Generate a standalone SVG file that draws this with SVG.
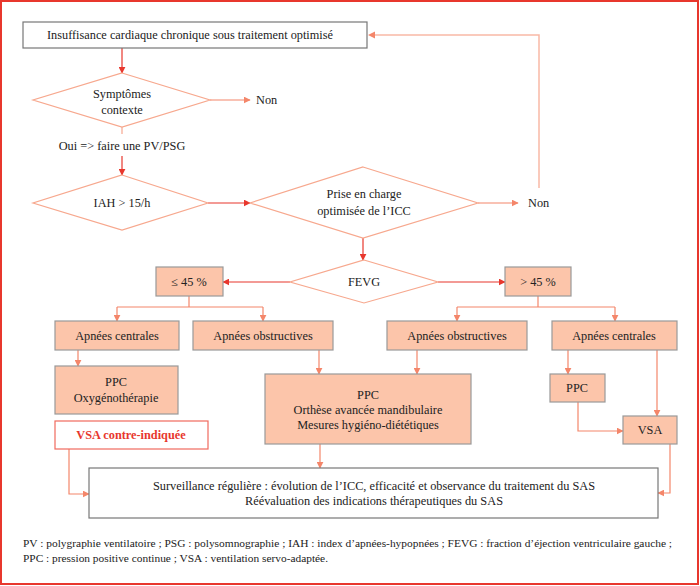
<svg xmlns="http://www.w3.org/2000/svg" width="700" height="586" viewBox="0 0 700 586" font-family="'Liberation Serif', 'Times New Roman', serif" font-size="12.3">
<defs>
<marker id="ar" viewBox="0 0 10 10" refX="9" refY="5" markerWidth="7" markerHeight="7" markerUnits="userSpaceOnUse" orient="auto"><path d="M0,0 L10,5 L0,10 z" fill="#e8372d"/></marker>
<marker id="as" viewBox="0 0 10 10" refX="9" refY="5" markerWidth="7" markerHeight="7" markerUnits="userSpaceOnUse" orient="auto"><path d="M0,0 L10,5 L0,10 z" fill="#f4866a"/></marker>
</defs>
<style>
text{fill:#222}
.c{text-anchor:middle}
.box{fill:#fcc5aa;stroke:#999;stroke-width:1.2}
.wbox{fill:#fff;stroke:#777;stroke-width:1.2}
.dia{fill:#fff;stroke:#f7a88e;stroke-width:1.2}
.red{fill:none;stroke:#e8372d;stroke-width:1.2;marker-end:url(#ar)}
.sal{fill:none;stroke:#f4866a;stroke-width:1.2}
.sa{fill:none;stroke:#f4866a;stroke-width:1.2;marker-end:url(#as)}
.lt{fill:none;stroke:#f9b9a6;stroke-width:1.5}
.leg{font-size:11.4px}
</style>
<rect x="1" y="1" width="697" height="583" fill="#fff" stroke="#e8372d" stroke-width="2"/>

<g id="connectors">
<line class="red" x1="122" y1="48" x2="122" y2="73"/>
<line class="sa" x1="210" y1="100" x2="250" y2="100"/>
<line class="lt" x1="122" y1="127" x2="122" y2="134"/>
<line class="red" x1="122" y1="156" x2="122" y2="175"/>
<line class="red" x1="208" y1="203" x2="250" y2="203"/>
<line class="sa" x1="478" y1="203" x2="518" y2="203"/>
<polyline class="lt" points="539,188 539,35 372,35"/>
<path d="M368,35 L375,31.5 L375,38.5 z" fill="#f4866a"/>
<line class="red" x1="363" y1="238" x2="363" y2="260"/>
<line class="red" x1="290" y1="282" x2="223" y2="282"/>
<line class="red" x1="438" y1="282" x2="505" y2="282"/>
<polyline class="sal" points="189,296 189,307"/>
<polyline class="sal" points="117,307 263,307"/>
<line class="sa" x1="117" y1="307" x2="117" y2="321"/>
<line class="sa" x1="263" y1="307" x2="263" y2="321"/>
<polyline class="sal" points="538,296 538,307"/>
<polyline class="sal" points="457,307 615,307"/>
<line class="sa" x1="457" y1="307" x2="457" y2="321"/>
<line class="sa" x1="615" y1="307" x2="615" y2="321"/>
<line class="sa" x1="78" y1="350" x2="78" y2="366"/>
<line class="sa" x1="319" y1="350" x2="319" y2="374"/>
<line class="sa" x1="417" y1="350" x2="417" y2="374"/>
<line class="sa" x1="568" y1="350" x2="568" y2="374"/>
<line class="sa" x1="657" y1="350" x2="657" y2="416"/>
<polyline class="sa" points="578,402 578,431 623,431"/>
<line class="sa" x1="320" y1="444" x2="320" y2="468"/>
<polyline class="sa" points="69,449 69,494 89,494"/>
<polyline class="sa" points="670,444 670,493 658,493"/>
</g>

<g id="n-start"><rect class="wbox" x="23" y="22" width="344" height="26"/><text class="c" x="190" y="39" textLength="286" lengthAdjust="spacingAndGlyphs">Insuffisance cardiaque chronique sous traitement optimisé</text></g>
<g id="n-symptomes"><polygon class="dia" points="122,73 210,100 122,127 33,100"/><text class="c" x="122" y="98">Symptômes</text><text class="c" x="122" y="114">contexte</text></g>
<g id="n-non1"><text x="256" y="104">Non</text></g>
<g id="n-oui"><text class="c" x="122" y="150">Oui =&gt; faire une PV/PSG</text></g>
<g id="n-iah"><polygon class="dia" points="122,175 208,203 122,230 33,203"/><text class="c" x="122" y="207">IAH &gt; 15/h</text></g>
<g id="n-prise"><polygon class="dia" points="363,167 478,203 363,238 250,203"/><text class="c" x="364" y="198">Prise en charge</text><text class="c" x="364" y="215">optimisée de l’ICC</text></g>
<g id="n-non2"><text x="528" y="207">Non</text></g>
<g id="n-fevg"><polygon class="dia" points="364,260 438,282 364,303 290,282"/><text class="c" x="364" y="286">FEVG</text></g>
<g id="n-le45"><rect class="box" x="156" y="267" width="67" height="29"/><text class="c" x="189" y="286">≤ 45 %</text></g>
<g id="n-gt45"><rect class="box" x="505" y="267" width="66" height="29"/><text class="c" x="538" y="286">&gt; 45 %</text></g>
<g id="n-ac1"><rect class="box" x="55" y="321" width="124" height="29"/><text class="c" x="117" y="340">Apnées centrales</text></g>
<g id="n-ao1"><rect class="box" x="193" y="321" width="140" height="29"/><text class="c" x="263" y="340">Apnées obstructives</text></g>
<g id="n-ao2"><rect class="box" x="387" y="321" width="140" height="29"/><text class="c" x="457" y="340">Apnées obstructives</text></g>
<g id="n-ac2"><rect class="box" x="552" y="321" width="125" height="29"/><text class="c" x="614" y="340">Apnées centrales</text></g>
<g id="n-ppc-oxy"><rect class="box" x="55" y="366" width="123" height="48"/><text class="c" x="116" y="386">PPC</text><text class="c" x="116" y="402">Oxygénothérapie</text></g>
<g id="n-vsa-ci"><rect x="55" y="421" width="153" height="28" fill="#fff" stroke="#f06a5e" stroke-width="1.2"/><text class="c" x="131" y="439" style="fill:#e8372d;font-weight:bold">VSA contre-indiquée</text></g>
<g id="n-ppc-big"><rect class="box" x="265" y="374" width="206" height="70"/><text class="c" x="368" y="399">PPC</text><text class="c" x="368" y="414">Orthèse avancée mandibulaire</text><text class="c" x="368" y="429">Mesures hygiéno-diététiques</text></g>
<g id="n-ppc-small"><rect class="box" x="550" y="374" width="55" height="28"/><text class="c" x="577" y="392">PPC</text></g>
<g id="n-vsa"><rect class="box" x="623" y="416" width="54" height="28"/><text class="c" x="650" y="434">VSA</text></g>
<g id="n-surv"><rect class="wbox" x="89" y="468" width="569" height="50"/><text class="c" x="374" y="490" textLength="442" lengthAdjust="spacingAndGlyphs">Surveillance régulière : évolution de l’ICC, efficacité et observance du traitement du SAS</text><text class="c" x="374" y="505" textLength="258" lengthAdjust="spacingAndGlyphs">Réévaluation des indications thérapeutiques du SAS</text></g>
<g id="legend" class="leg"><text x="23" y="547" textLength="649" lengthAdjust="spacingAndGlyphs">PV : polygraphie ventilatoire ; PSG : polysomnographie ; IAH : index d’apnées-hypopnées ; FEVG : fraction d’éjection ventriculaire gauche ;</text><text x="23" y="562" textLength="305" lengthAdjust="spacingAndGlyphs">PPC : pression positive continue ; VSA : ventilation servo-adaptée.</text></g>
</svg>
